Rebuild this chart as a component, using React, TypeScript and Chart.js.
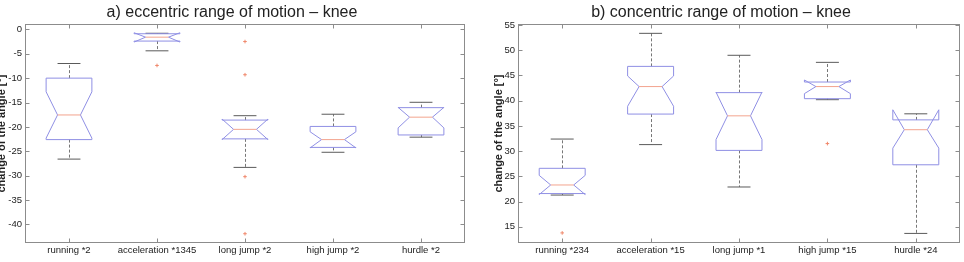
import React, { useEffect, useRef } from 'react';
import { Chart, registerables } from 'chart.js';
Chart.register(...registerables);

// ---- panel a) eccentric ----
const titleA = 'a) eccentric range of motion \u2013 knee';
const catsA = ['running *2', 'acceleration *1345', 'long jump *2', 'high jump *2', 'hurdle *2'];
const whiskerHighA = [-7.0, -0.8, -17.7, -17.4, -14.95];
const q3A = [-10.0, -0.9, -18.6, -19.9, -16.05];
const notchHighA = [-12.8, -0.7, -18.4, -21.0, -16.0];
const medianA = [-17.55, -1.6, -20.5, -22.6, -18.0];
const notchLowA = [-22.3, -2.6, -22.6, -24.3, -20.2];
const q1A = [-22.6, -2.4, -22.45, -24.2, -21.65];
const whiskerLowA = [-26.6, -4.4, -28.3, -25.2, -22.1];
const outlierCatA = [1, 2, 2, 2, 2];
const outlierValA = [-7.4, -2.5, -9.3, -30.2, -41.9];
const yMinA = -43.8;
const yMaxA = 1.1;

// ---- panel b) concentric ----
const titleB = 'b) concentric range of motion \u2013 knee';
const catsB = ['running *234', 'acceleration *15', 'long jump *1', 'high jump *15', 'hurdle *24'];
const whiskerHighB = [32.4, 53.35, 49.0, 47.6, 37.4];
const q3B = [26.6, 46.8, 41.6, 43.7, 36.2];
const notchHighB = [25.2, 44.9, 41.7, 44.1, 38.2];
const medianB = [23.3, 42.8, 37.0, 42.8, 34.25];
const notchLowB = [21.4, 38.9, 32.3, 41.4, 30.6];
const q1B = [21.6, 37.35, 30.15, 40.4, 27.3];
const whiskerLowB = [21.3, 31.3, 22.9, 40.2, 13.7];
const outlierCatB = [0, 3];
const outlierValB = [13.8, 31.5];
const yMinB = 11.8;
const yMaxB = 55.2;

const yTitle = 'change of the angle [\u00b0]';
const FONT = '"Liberation Sans", Arial, Helvetica, sans-serif';

type BoxData = {
  wh: number[]; q3: number[]; nh: number[]; med: number[]; nl: number[]; q1: number[]; wl: number[];
};

const boxPlugin = {
  id: 'notchBoxes',
  beforeDatasetsDraw(chart: any, _args: any, opts: any) {
    const d: BoxData = opts.data;
    if (!d) return;
    const xs = chart.scales.x;
    const ys = chart.scales.y;
    const ctx = chart.ctx;
    const bin = xs.getPixelForValue(1) - xs.getPixelForValue(0);
    const hw = bin * 0.26;
    const nw = hw * 0.5;
    const cw = hw * 0.5;
    ctx.save();
    for (let i = 0; i < d.med.length; i++) {
      const cx = xs.getPixelForValue(i);
      const L = cx - hw, R = cx + hw, NL = cx - nw, NR = cx + nw;
      const py = (v: number) => ys.getPixelForValue(v);
      const wx = Math.round(cx) + 0.5;
      // whiskers
      ctx.strokeStyle = '#777777';
      ctx.lineWidth = 1;
      ctx.setLineDash([3, 2]);
      ctx.beginPath();
      ctx.moveTo(wx, py(d.q3[i]));
      ctx.lineTo(wx, py(d.wh[i]));
      ctx.moveTo(wx, py(d.q1[i]));
      ctx.lineTo(wx, py(d.wl[i]));
      ctx.stroke();
      ctx.setLineDash([]);
      // caps
      ctx.strokeStyle = '#5a5a5a';
      ctx.beginPath();
      ctx.moveTo(cx - cw, py(d.wh[i]));
      ctx.lineTo(cx + cw, py(d.wh[i]));
      ctx.moveTo(cx - cw, py(d.wl[i]));
      ctx.lineTo(cx + cw, py(d.wl[i]));
      ctx.stroke();
      // notched box
      ctx.strokeStyle = '#8f8fe4';
      ctx.beginPath();
      ctx.moveTo(L, py(d.q1[i]));
      ctx.lineTo(L, py(d.nl[i]));
      ctx.lineTo(NL, py(d.med[i]));
      ctx.lineTo(L, py(d.nh[i]));
      ctx.lineTo(L, py(d.q3[i]));
      ctx.lineTo(R, py(d.q3[i]));
      ctx.lineTo(R, py(d.nh[i]));
      ctx.lineTo(NR, py(d.med[i]));
      ctx.lineTo(R, py(d.nl[i]));
      ctx.lineTo(R, py(d.q1[i]));
      ctx.closePath();
      ctx.stroke();
      // median
      ctx.strokeStyle = '#f3a48e';
      ctx.beginPath();
      ctx.moveTo(NL, py(d.med[i]));
      ctx.lineTo(NR, py(d.med[i]));
      ctx.stroke();
    }
    ctx.restore();
  },
  afterDraw(chart: any) {
    const { left, right, top, bottom } = chart.chartArea;
    const ctx = chart.ctx;
    const xs = chart.scales.x;
    const ys = chart.scales.y;
    ctx.save();
    ctx.strokeStyle = '#8c8c8c';
    ctx.lineWidth = 1;
    const l = Math.round(left) + 0.5, r = Math.round(right) - 0.5;
    const t = Math.round(top) + 0.5, b = Math.round(bottom) - 0.5;
    ctx.strokeRect(l, t, r - l, b - t);
    ctx.beginPath();
    for (const tk of ys.ticks) {
      const y = Math.round(ys.getPixelForValue(tk.value)) + 0.5;
      ctx.moveTo(l, y); ctx.lineTo(l + 4, y);
      ctx.moveTo(r, y); ctx.lineTo(r - 4, y);
    }
    for (let i = 0; i < xs.ticks.length; i++) {
      const x = Math.round(xs.getPixelForValue(i)) + 0.5;
      ctx.moveTo(x, b); ctx.lineTo(x, b - 4);
      ctx.moveTo(x, t); ctx.lineTo(x, t + 4);
    }
    ctx.stroke();
    ctx.restore();
  },
};

type PanelProps = {
  title: string; cats: string[]; box: BoxData; oCat: number[]; oVal: number[];
  yMin: number; yMax: number; width: number; left: number; axisW: number; padRight: number; yTitlePad: number;
};

function Panel(p: PanelProps) {
  const ref = useRef<HTMLCanvasElement>(null);
  useEffect(() => {
    if (!ref.current) return;
    const chart = new Chart(ref.current, {
      type: 'scatter',
      data: {
        labels: p.cats,
        datasets: [{
          data: p.oCat.map((c, i) => ({ x: p.cats[c], y: p.oVal[i] })),
          pointStyle: 'cross',
          radius: 1.8,
          borderColor: '#f0876a',
          backgroundColor: '#f0876a',
          borderWidth: 1,
        }],
      },
      options: {
        animation: false,
        responsive: false,
        devicePixelRatio: 1,
        layout: { padding: { left: 0, right: p.padRight, top: 0, bottom: 0 } },
        plugins: {
          legend: { display: false },
          tooltip: { enabled: false },
          title: {
            display: true,
            text: p.title,
            color: '#222',
            font: { family: FONT, size: 16, weight: 'normal', lineHeight: 1.2 },
            padding: { top: 2.5, bottom: 2.3 },
          },
          notchBoxes: { data: p.box },
        } as any,
        scales: {
          x: {
            type: 'category',
            labels: p.cats,
            offset: true,
            grid: { display: false, drawTicks: false },
            border: { display: false },
            ticks: { color: '#222', font: { family: FONT, size: 9.5 }, padding: 2, maxRotation: 0, autoSkip: false },
            afterFit: (s: any) => { s.height = 19; },
          },
          y: {
            type: 'linear',
            min: p.yMin,
            max: p.yMax,
            grid: { display: false, drawTicks: false },
            border: { display: false },
            ticks: { stepSize: 5, includeBounds: false, color: '#222', font: { family: FONT, size: 9.5 }, padding: 3 },
            title: {
              display: true,
              text: yTitle,
              color: '#222',
              font: { family: FONT, size: 11, weight: 'bold', lineHeight: 1.2 },
              padding: { top: p.yTitlePad, bottom: 0 },
            },
            afterFit: (s: any) => { s.width = p.axisW; },
          },
        },
      } as any,
      plugins: [boxPlugin],
    });
    return () => chart.destroy();
  }, []);
  return (
    <div style={{ position: 'absolute', left: p.left, top: 0, width: p.width, height: 262 }}>
      <canvas ref={ref} width={p.width} height={262} style={{ display: 'block' }} />
    </div>
  );
}

export default function App() {
  return (
    <div style={{ position: 'fixed', left: 0, top: 0, width: 964, height: 262, overflow: 'hidden', background: '#fff' }}>
      <Panel
        title={titleA}
        cats={catsA}
        box={{ wh: whiskerHighA, q3: q3A, nh: notchHighA, med: medianA, nl: notchLowA, q1: q1A, wl: whiskerLowA }}
        oCat={outlierCatA}
        oVal={outlierValA}
        yMin={yMinA}
        yMax={yMaxA}
        width={476}
        left={-6}
        axisW={31}
        padRight={0}
        yTitlePad={1.4}
      />
      <Panel
        title={titleB}
        cats={catsB}
        box={{ wh: whiskerHighB, q3: q3B, nh: notchHighB, med: medianB, nl: notchLowB, q1: q1B, wl: whiskerLowB }}
        oCat={outlierCatB}
        oVal={outlierValB}
        yMin={yMinB}
        yMax={yMaxB}
        width={488}
        left={482}
        axisW={36}
        padRight={10}
        yTitlePad={9.9}
      />
    </div>
  );
}
